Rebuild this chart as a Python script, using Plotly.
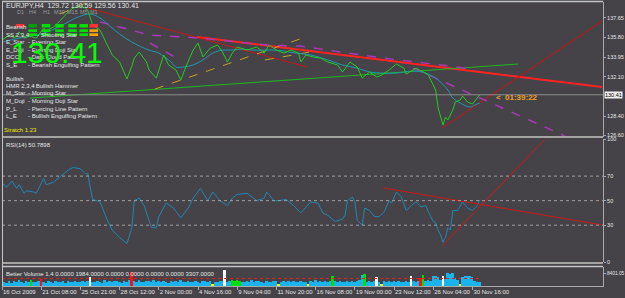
import plotly.graph_objects as go

# ---------------- data ----------------
tick_bars = [0, 16, 32, 48, 64, 80, 96, 112, 128, 144, 160, 176, 192]
tick_labels = ["16 Oct 2009", "21 Oct 08:00", "25 Oct 21:00", "28 Oct 12:00", "2 Nov 00:00",
               "4 Nov 16:00", "9 Nov 04:00", "11 Nov 20:00", "16 Nov 08:00", "19 Nov 00:00",
               "23 Nov 12:00", "26 Nov 04:00", "30 Nov 16:00"]

price_bars = [0, 3, 5, 7, 9, 11, 14, 17, 18, 21, 24, 27, 29, 32, 34, 35, 37, 40, 43, 45, 48, 51, 53, 54,
              56, 59, 60, 63, 66, 68, 71, 73, 75, 78, 80, 82, 85, 88, 90, 92, 94, 96, 100, 104, 107,
              109, 112, 115, 118, 121, 122, 124, 127, 130, 133, 137, 139, 142, 145, 147, 150, 153,
              155, 158, 161, 164, 165, 168, 169, 172, 174, 177, 178, 180, 181, 182, 184, 185, 187,
              188, 190, 192, 194, 195]
price_close = [135.55, 136.02, 135.74, 136.31, 135.74, 135.93, 135.74, 136.68, 136.40, 136.78, 137.43,
               138.19, 138.56, 138.75, 138.56, 138.37, 136.96, 136.49, 135.08, 134.15, 133.49, 131.90,
               133.11, 133.86, 134.43, 133.49, 132.74, 131.98, 134.15, 133.21, 132.74, 131.80, 133.02,
               134.61, 135.27, 133.96, 134.80, 135.08, 134.43, 133.49, 134.33, 134.90, 134.61, 134.90,
               134.33, 135.08, 134.61, 134.33, 134.61, 134.33, 133.49, 134.15, 133.96, 133.86, 133.49,
               133.21, 132.55, 133.49, 133.02, 131.98, 132.55, 132.08, 132.27, 132.74, 133.30, 132.92,
               132.36, 132.74, 132.92, 132.55, 132.27, 130.86, 129.17, 127.57, 128.32, 128.04, 128.98,
               129.73, 129.92, 130.29, 129.73, 129.54, 130.20, 130.41]

ma_bars = [0, 7, 16, 24, 30, 36, 40, 44, 48, 53, 60, 64, 69, 71, 74, 78, 82, 86, 90, 94, 98, 102, 107,
           111, 115, 120, 126, 133, 139, 145, 150, 156, 161, 168, 173, 178, 182, 184, 187, 191, 193, 195]
ma_vals = [135.36, 135.74, 136.12, 136.87, 137.62, 138.00, 137.62, 136.87, 136.12, 135.36, 134.61,
           134.33, 133.49, 133.02, 133.02, 133.21, 133.68, 134.33, 134.61, 134.61, 134.71, 134.61,
           134.61, 134.61, 134.52, 134.33, 134.15, 133.68, 133.21, 132.92, 132.55, 132.45, 132.45,
           132.64, 132.45, 131.80, 130.86, 130.10, 129.64, 129.26, 129.45, 129.64]

rsi_bars = [0, 2, 4, 6, 7, 9, 10, 13, 14, 17, 18, 21, 24, 27, 29, 32, 34, 35, 36, 37, 40, 43, 45, 48,
            51, 53, 54, 56, 58, 61, 63, 64, 67, 70, 73, 76, 78, 81, 84, 86, 89, 92, 94, 96, 100, 102,
            104, 107, 108, 111, 113, 116, 119, 122, 126, 129, 131, 133, 136, 139, 140, 141, 143, 144,
            145, 147, 148, 150, 152, 154, 156, 158, 159, 161, 163, 165, 167, 169, 171, 173, 174, 176,
            177, 178, 179, 180, 181, 182, 183, 184, 186, 188, 190, 192, 194, 195]
rsi_vals = [64, 61, 66, 60, 63, 56, 58, 57, 56, 68, 63, 65, 70, 75, 77, 76, 72, 72, 61, 51, 49, 34, 26,
            20, 15, 28, 50, 52, 46, 28, 28, 37, 48, 44, 36, 44, 52, 60, 50, 57, 50, 46, 52, 55, 56, 53,
            50, 52, 57, 50, 50, 51, 46, 40, 49, 48, 40, 38, 33, 35, 38, 50, 53, 49, 34, 30, 44, 42, 37,
            37, 41, 50, 48, 57, 53, 42, 46, 49, 45, 46, 41, 33, 32, 26, 22, 16, 20, 28, 26, 42, 42, 49,
            44, 42, 46, 50.79]
rsi_levels = [30, 50, 70]

volume = [1800, 3200, 2600, 3900, 2400, 3400, 2900, 4100, 3000, 2500,
          3600, 2800, 4300, 3100, 2700, 3500, 5200, 3300, 2600, 3800,
          3000, 2400, 3700, 2900, 3300, 4000, 2600, 3500, 3100, 2800,
          3900, 3200, 2700, 3600, 3000, 3400, 6500, 3100, 2900, 3800,
          3300, 2500, 4100, 3000, 3600, 2800, 3400, 3900, 3100, 2600,
          3700, 3300, 4200, 9800, 3600, 3000, 4400, 3200, 2700, 3900,
          3400, 2900, 4600, 3100, 3500, 2800, 4000, 3300, 2600, 3700,
          3000, 3500, 2800, 4200, 3100, 2700, 3800, 3300, 2900, 3600,
          3200, 2600, 4000, 3400, 3000, 3700, 1500, 3300, 2800, 3900,
          3500, 11200, 3100, 3600, 4300, 3800, 4500, 3900, 3200, 2700,
          3600, 3000, 4200, 2800, 3400, 3900, 3100, 2600, 3700, 3300,
          2900, 3500, 4000, 1400, 3200, 3800, 2700, 3400, 3000, 3600,
          3100, 2800, 3900, 3300, 2900, 1500, 3700, 3200, 4100, 3000,
          3500, 2800, 3600, 3100, 4000, 7000, 3400, 2900, 3800, 3200,
          2700, 3600, 3300, 3900, 3000, 3500, 4200, 7700, 8400, 3100,
          3600, 3000, 3400, 6300, 2800, 1500, 3700, 3200, 3900, 2900,
          3500, 3100, 4000, 3300, 2800, 3600, 3200, 7000, 3800, 3000,
          3400, 5500, 7700, 3600, 4100, 3900, 7000, 7000, 6500, 4500,
          6800, 5200, 9100, 8400, 9000, 5800, 4600, 1800, 6500, 7000,
          6800, 7200, 6200, 3600, 3300, 3000]
volume_kind = {0: "low", 12: "churn", 16: "climax", 36: "climaxlow", 53: "climax", 86: "low",
               91: "climaxlow", 94: "churn", 95: "churn", 96: "churn", 97: "churn", 113: "low",
               125: "low", 135: "churn", 148: "churn", 153: "climaxlow", 155: "low", 167: "climaxlow",
               171: "climax", 172: "churn", 180: "climaxlow", 187: "low"}
volume_avg = 5000

# trend lines  (bar, value) end points
price_trend = {
    "dkred":  ([35.1, 124.5], [138.56, 133.02]),
    "red":    ([79.6, 244.9], [135.84, 131.14]),
    "green":  ([11.4, 210.6], [130.10, 133.30]),
    "redup":  ([179.6, 244.9], [127.29, 137.34]),
    "yel1":   ([62.4, 121.6], [130.95, 135.65]),
    "yel2":   ([107.3, 125.7], [133.68, 134.43]),
    "yel3":   ([23.7, 35.1], [138.00, 139.12]),
}
purple_a = ([40, 60.4, 80.8, 108.2, 121.6, 155.5, 182.9, 191.0],
            [137.25, 136.02, 135.74, 135.08, 134.99, 133.86, 133.11, 132.83])
purple_b = ([167.8, 229.8], [132.92, 126.53])
purple_c = ([60.4, 72.7], [135.27, 133.68])
rsi_trend = {
    "down": ([155.5, 244.9], [60.4, 30.2]),
    "up":   ([179.6, 221.6], [13.1, 100.0]),
}
current_price = 130.41
price_ticks = [126.60, 128.40, 132.10, 133.95, 135.80, 137.65]
rsi_ticks = [0, 30, 50, 70, 100]
vol_ticks = [8401.05]

bearish = [("SS 2,3,4", "- Shooting Star"), ("E_Star", "- Evening Star"),
           ("E_Doji", "- Evening Doji Star"), ("DCC", "- Dark Cloud Pattern"),
           ("S_E", "- Bearish Engulfing Pattern")]
bullish = [("HMR 2,3,4", "- Bullish Hammer"), ("M_Star", "- Morning Star"),
           ("M_Doji", "- Morning Doji Star"), ("P_L", "- Piercing Line Pattern"),
           ("L_E", "- Bullish Engulfing Pattern")]
tf_labels = ["D1", "H4", "H1", "M30", "M15", "M5", "M1"]
box_rows = [["#ff3030", "#00a000", "#00e000", "#00e000", "#00e000", "#00e000", "#ff3030"],
            [None, "#00e000", "#00e000", "#00e000", "#00e000", "#00e000", "#ffa000"],
            [None, "#00e000", "#00e000", "#00e000", "#00e000", "#00e000", "#ffa000"]]

# ---------------- layout helpers ----------------
W, H = 625, 298
ML, MR, MT, MB = 2, 22, 2, 12
PW, PH = W - ML - MR, H - MT - MB


def xp(px):
    return (px - ML) / PW


def yp(py):
    return (H - MB - py) / PH


BG = "#454348"
TXT = "#e6e6e6"
FONT = "Liberation Sans"
AX = "#a8a8a8"

kind_color = {"normal": "#19b4ee", "low": "#ffff00", "churn": "#00e000",
              "climax": "#ff1010", "climaxlow": "#ffffff"}
vol_bars = list(range(len(volume)))
vol_colors = [kind_color[volume_kind.get(i, "normal")] for i in vol_bars]

fig = go.Figure()

# price panel
styles = {"dkred": ("#c81818", 1, "solid"), "red": ("#ff2222", 2, "solid"),
          "green": ("#1fb81f", 1, "solid"), "redup": ("#d01010", 1, "solid"),
          "yel1": ("#c8a028", 1, "dash"), "yel2": ("#c8a028", 1, "dash"),
          "yel3": ("#c8a028", 1, "dash")}
for k, (bx, by) in price_trend.items():
    c, w, d = styles[k]
    fig.add_trace(go.Scatter(x=bx, y=by, mode="lines", line=dict(color=c, width=w, dash=d),
                             yaxis="y", hoverinfo="skip"))
for bx, by in (purple_a, purple_b, purple_c):
    fig.add_trace(go.Scatter(x=bx, y=by, mode="lines",
                             line=dict(color="#a838b8", width=1.5, dash="dash"),
                             yaxis="y", hoverinfo="skip"))
fig.add_trace(go.Scatter(x=ma_bars, y=ma_vals, mode="lines",
                         line=dict(color="#1e98b0", width=1, shape="spline"), yaxis="y"))
fig.add_trace(go.Scatter(x=price_bars, y=price_close, mode="lines",
                         line=dict(color="#22cc22", width=1), yaxis="y"))

# RSI panel
fig.add_trace(go.Scatter(x=rsi_bars, y=rsi_vals, mode="lines",
                         line=dict(color="#2286b4", width=1), yaxis="y2"))
for k, (bx, by) in rsi_trend.items():
    fig.add_trace(go.Scatter(x=bx, y=by, mode="lines", line=dict(color="#d01818", width=1),
                             yaxis="y2", hoverinfo="skip"))

# volume panel
fig.add_trace(go.Bar(x=vol_bars, y=volume, marker=dict(color=vol_colors, line=dict(width=0)),
                     width=0.8, yaxis="y3"))
fig.add_trace(go.Scatter(x=[0, vol_bars[-1]], y=[volume_avg, volume_avg], mode="lines",
                         line=dict(color="#e02020", width=1, dash="dot"), yaxis="y3"))

shapes = []
# current price line
shapes.append(dict(type="line", xref="paper", yref="y", x0=0, x1=1, y0=current_price,
                   y1=current_price, line=dict(color="#8c8c8c", width=1)))
for lv in rsi_levels:
    shapes.append(dict(type="line", xref="paper", yref="y2", x0=0, x1=1, y0=lv, y1=lv,
                       line=dict(color="#a0a0a0", width=1, dash="dot")))
# frames / separators
frame = "#c4c4c4"
for py in (1.5, 137.0, 263.0, 266.5):
    shapes.append(dict(type="line", xref="paper", yref="paper", x0=0, x1=1, y0=yp(py), y1=yp(py),
                       line=dict(color=frame, width=1.5)))
shapes.append(dict(type="line", xref="paper", yref="paper", x0=xp(2.5), x1=xp(2.5), y0=0, y1=1,
                   line=dict(color=frame, width=1)))
# timeframe boxes
col_cx = [20, 32.7, 46, 59.5, 72.5, 83.7, 93.7]
row_y = [(24, 27.5), (29.3, 32), (33.3, 36)]
for r, row in enumerate(box_rows):
    for c, col in enumerate(row):
        if col is None:
            continue
        shapes.append(dict(type="rect", xref="paper", yref="paper", x0=xp(col_cx[c] - 4.3),
                           x1=xp(col_cx[c] + 4.3), y0=yp(row_y[r][1]), y1=yp(row_y[r][0]),
                           fillcolor=col, line=dict(width=0)))

ann = []


def label(px, py, text, size=6, color=TXT, anchor="left", bold=False, **kw):
    t = "<b>" + text + "</b>" if bold else text
    ann.append(dict(x=xp(px), y=yp(py), xref="paper", yref="paper", text=t, showarrow=False,
                    xanchor=anchor, yanchor="middle", font=dict(family=FONT, size=size, color=color),
                    **kw))


label(4, 6, "EURJPY,H4  129.72 130.59 129.56 130.41", size=7)
for i, t in enumerate(tf_labels):
    label(col_cx[i], 12, t, size=5.5, color="#9a9a9a", anchor="center")
label(4, 27, "Bearish")
for i, (a, b) in enumerate(bearish):
    y = 34.5 + i * 7.5
    label(4, y, a)
    label(35 if a.startswith("SS") else 26, y, b)
label(4, 79, "Bullish")
for i, (a, b) in enumerate(bullish):
    y = 86 + i * 7.5
    label(4, y, a)
    label(30 if a.startswith("HMR") else 26, y, b)
label(57, 52, "130.41", size=30, color="#00ff00", anchor="center")
label(2, 130, "Stratch 1.23", size=6, color="#e8e800")
label(494, 97, "<", size=8, color="#f0a020", bold=True)
label(503, 97, "01:39:22", size=8, color="#f0a020", bold=True)
label(4, 145, "RSI(14) 50.7898")
label(4, 274, "Better Volume 1.4 0.0000 1984.0000 0.0000 0.0000 0.0000 0.0000 3307.0000")
# current price tag on the axis
ann.append(dict(x=xp(603.5), y=current_price, xref="paper", yref="y", text="130.41",
                showarrow=False, xanchor="left", yanchor="middle", bgcolor="#f0f0f0",
                font=dict(family=FONT, size=5.5, color="#000000"), borderpad=0))

tickfont = dict(family=FONT, size=5.5, color=TXT)
yax = dict(side="right", anchor="x", showgrid=False, zeroline=False, showline=True, linecolor=AX,
           ticks="outside", ticklen=2, tickcolor=AX, automargin=False)
fig.update_layout(
    width=W, height=H, margin=dict(l=ML, r=MR, t=MT, b=MB),
    paper_bgcolor=BG, plot_bgcolor=BG, showlegend=False, hovermode=False, bargap=0,
    shapes=shapes, annotations=ann,
    xaxis=dict(range=[0, 245.3], anchor="y3", tickvals=tick_bars, ticktext=tick_labels,
               tickangle=0, automargin=False,
               showgrid=False, zeroline=False, showline=True, linecolor=AX, ticks="outside",
               ticklen=3, tickcolor=AX, tickfont=dict(family=FONT, size=6, color=TXT),
               ticklabelposition="outside right"),
    yaxis=dict(domain=[yp(136.5), 1], range=[126.49, 139.13], tickfont=tickfont,
               tickvals=price_ticks, ticktext=["%.2f" % v for v in price_ticks], **yax),
    yaxis2=dict(domain=[yp(262), yp(139.3)], range=[0, 100], tickfont=tickfont,
                tickvals=rsi_ticks, ticktext=[str(v) for v in rsi_ticks], **yax),
    yaxis3=dict(domain=[0, yp(266.5)], range=[0, 13000],
                tickfont=dict(family=FONT, size=4.8, color=TXT),
                tickvals=vol_ticks, ticktext=["%.2f" % v for v in vol_ticks], **yax),
)

fig.write_html("out.html", config={"displayModeBar": False})
